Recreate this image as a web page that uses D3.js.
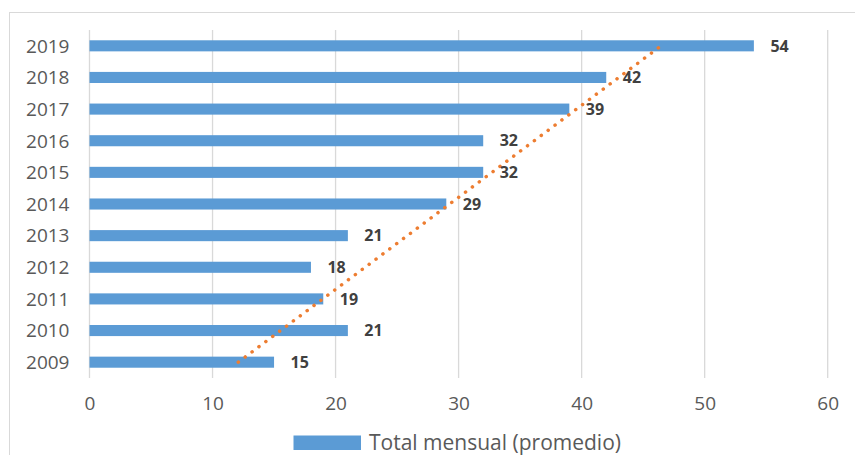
<!DOCTYPE html>
<html>
<head>
<meta charset="utf-8">
<script src="https://cdn.jsdelivr.net/npm/d3@7"></script>
<style>
  body { margin: 0; background: #fff; }
  text { font-family: "Open Sans", Lato, sans-serif; }
</style>
</head>
<body>
<div id="chart"></div>
<script>
  const years = ["2009", "2010", "2011", "2012", "2013", "2014", "2015", "2016", "2017", "2018", "2019"];
  const values = [15, 21, 19, 18, 21, 29, 32, 32, 39, 42, 54];
  const xTicks = [0, 10, 20, 30, 40, 50, 60];
  const seriesName = "Total mensual (promedio)";

  const width = 855;
  const height = 455;
  const plotLeft = 89.5, plotRight = 827.7, plotTop = 30, plotBottom = 378;

  const svg = d3.select("#chart").append("svg")
    .attr("width", width)
    .attr("height", height);

  // chart frame (only left/top visible in reference)
  svg.append("rect")
    .attr("x", 9.5).attr("y", 12.5)
    .attr("width", 900).attr("height", 500)
    .attr("fill", "none")
    .attr("stroke", "#D9D9D9");

  const x = d3.scaleLinear().domain([0, 60]).range([plotLeft, plotRight]);
  const y = d3.scaleBand()
    .domain(years.slice().reverse())
    .range([plotTop, plotBottom])
    .paddingInner(0.65)
    .paddingOuter(0.325);

  // GRIDLINES
  svg.append("g")
    .selectAll("line")
    .data(xTicks)
    .enter()
    .append("line")
    .attr("x1", d => x(d)).attr("x2", d => x(d))
    .attr("y1", plotTop).attr("y2", plotBottom)
    .attr("stroke", "#D9D9D9")
    .attr("stroke-width", 1.3);

  // BARS
  svg.append("g")
    .selectAll("rect")
    .data(values)
    .enter()
    .append("rect")
    .attr("x", x(0))
    .attr("y", (d, i) => y(years[i]))
    .attr("width", d => x(d) - x(0))
    .attr("height", y.bandwidth())
    .attr("fill", "#5B9BD5");

  // AXES
  const yAxis = svg.append("g")
    .attr("transform", "translate(" + plotLeft + ",0)")
    .call(d3.axisLeft(y).tickSize(0).tickPadding(20));
  yAxis.select(".domain").remove();
  yAxis.selectAll("text")
    .attr("fill", "#595959")
    .style("font-size", "19px")
    .attr("dy", "0.36em");

  const xAxis = svg.append("g")
    .attr("transform", "translate(0," + plotBottom + ")")
    .call(d3.axisBottom(x).tickValues(xTicks).tickSize(0).tickPadding(19));
  xAxis.select(".domain").remove();
  xAxis.selectAll("text")
    .attr("fill", "#595959")
    .style("font-size", "19px");

  // TRENDLINE (linear least squares over category index)
  const n = values.length;
  const idx = d3.range(1, n + 1);
  const mx = d3.mean(idx), my = d3.mean(values);
  const slope = d3.sum(idx, (k, i) => (k - mx) * (values[i] - my)) / d3.sum(idx, k => (k - mx) * (k - mx));
  const icpt = my - slope * mx;
  const trend = [1, n].map(k => [icpt + slope * k, years[k - 1]]);

  svg.append("line")
    .attr("x1", x(trend[0][0]))
    .attr("y1", y(trend[0][1]) + y.bandwidth() / 2)
    .attr("x2", x(trend[1][0]))
    .attr("y2", y(trend[1][1]) + y.bandwidth() / 2)
    .attr("stroke", "#ED7D31")
    .attr("stroke-width", 3.5)
    .attr("stroke-linecap", "round")
    .attr("stroke-dasharray", "0.1 8.5");

  // DATA LABELS
  svg.append("g")
    .selectAll("text")
    .data(values)
    .enter()
    .append("text")
    .attr("x", d => x(d) + 16.5)
    .attr("y", (d, i) => y(years[i]) + y.bandwidth() / 2)
    .attr("dy", "0.36em")
    .attr("fill", "#404040")
    .style("font-size", "16px")
    .style("font-weight", "bold")
    .text(d => d);

  // LEGEND
  svg.append("rect")
    .attr("x", 293.5).attr("y", 435.5)
    .attr("width", 67.5).attr("height", 14.5)
    .attr("fill", "#5B9BD5");
  svg.append("text")
    .attr("x", 369).attr("y", 449.5)
    .attr("fill", "#595959")
    .style("font-size", "21px")
    .text(seriesName);
</script>
</body>
</html>
